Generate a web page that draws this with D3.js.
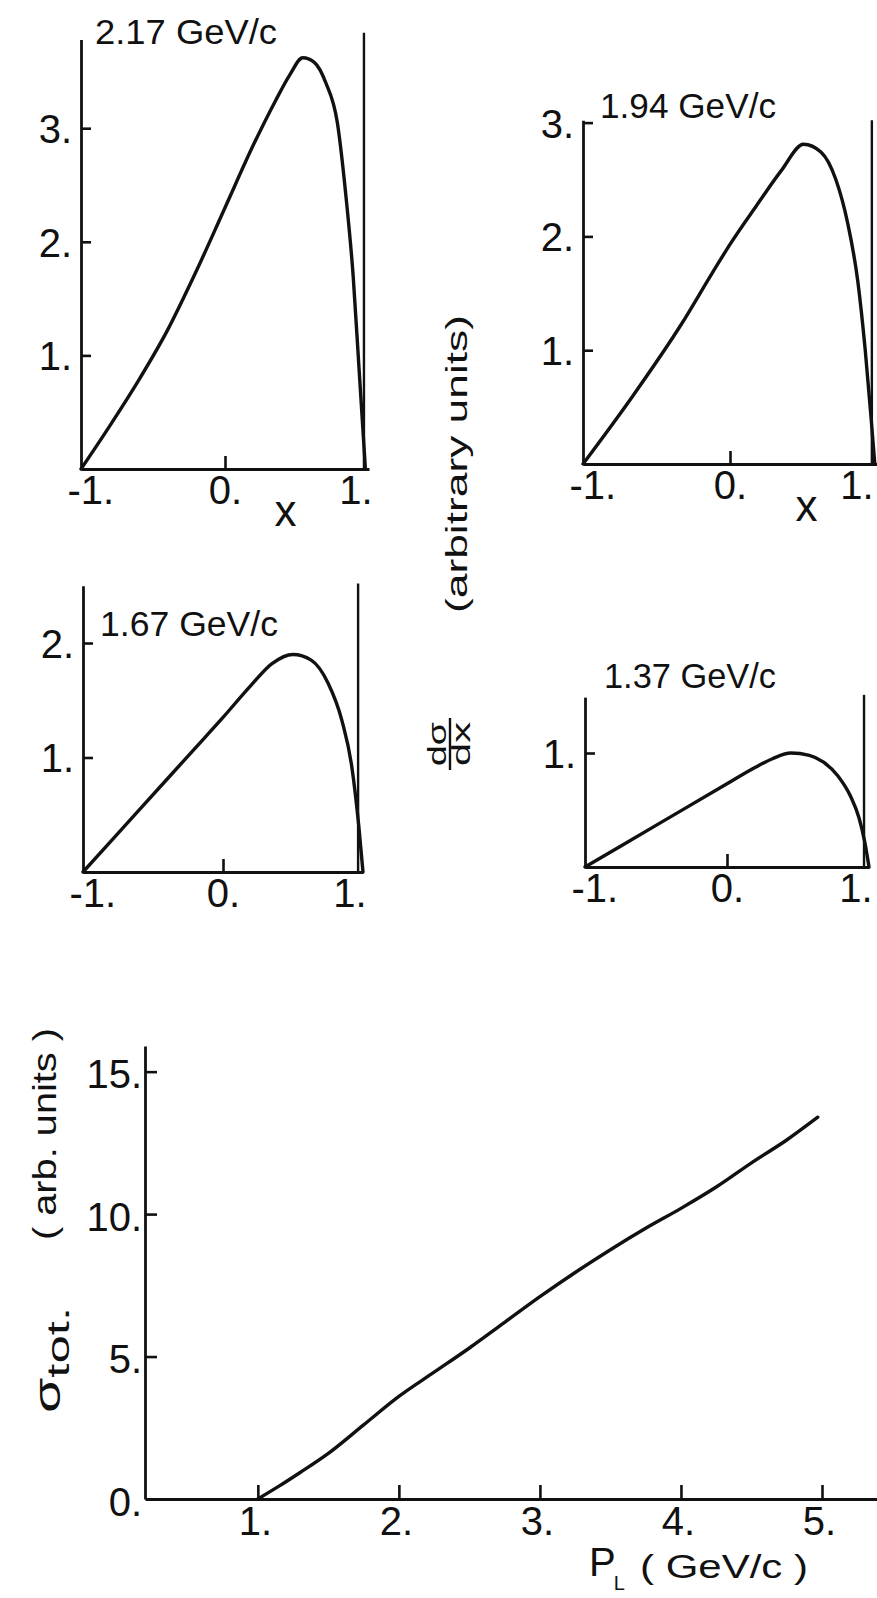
<!DOCTYPE html>
<html>
<head>
<meta charset="utf-8">
<script src="https://cdn.jsdelivr.net/npm/d3@7"></script>
<style>
  html, body { margin: 0; padding: 0; background: #fff; }
  svg { display: block; }
  text { font-family: "Liberation Sans", Arial, sans-serif; fill: #111; }
</style>
</head>
<body>
<svg id="fig" width="877" height="1598"></svg>
<script>
// ---- angular distributions dσ/dx, x = cos θ, one per beam momentum ----
const momentumLabels = ["2.17  GeV/c", "1.94  GeV/c", "1.67  GeV/c", "1.37  GeV/c"];

const x217 = [-1, -0.8, -0.6, -0.4, -0.2, 0, 0.2, 0.35, 0.45, 0.54, 0.62, 0.7, 0.78, 0.84, 0.89, 0.93, 0.96, 0.975];
const y217 = [0, 0.38, 0.78, 1.22, 1.74, 2.3, 2.86, 3.24, 3.47, 3.62, 3.58, 3.4, 3.05, 2.4, 1.7, 0.9, 0.3, 0];

const x194 = [-1, -0.66, -0.33, -0.12, 0, 0.18, 0.35, 0.5, 0.62, 0.72, 0.8, 0.87, 0.92, 0.96, 0.985];
const y194 = [0, 0.6, 1.23, 1.68, 1.93, 2.27, 2.58, 2.81, 2.74, 2.5, 2.12, 1.6, 1.0, 0.4, 0];

const x167 = [-1, -0.6, -0.2, 0, 0.2, 0.35, 0.5, 0.63, 0.75, 0.85, 0.92, 0.97, 1.0];
const y167 = [0, 0.54, 1.08, 1.35, 1.63, 1.82, 1.9, 1.85, 1.65, 1.32, 0.92, 0.4, 0];

const x137 = [-1, -0.5, 0, 0.2, 0.32, 0.45, 0.58, 0.68, 0.78, 0.87, 0.93, 0.97, 1.0];
const y137 = [0, 0.365, 0.73, 0.875, 0.95, 1.0, 0.98, 0.92, 0.8, 0.62, 0.43, 0.22, 0];

const cosTicks = [-1, 0, 1];
const cosTickLabels = ["-1.", "0.", "1."];
const yTicks217 = [1, 2, 3];
const yTicks194 = [1, 2, 3];
const yTicks167 = [1, 2];
const yTicks137 = [1];

// ---- total cross section versus laboratory momentum ----
const pLab = [1.0, 1.15, 1.3, 1.5, 1.75, 2.0, 2.25, 2.5, 2.75, 3.0, 3.25, 3.5, 3.75, 4.0, 4.25, 4.5, 4.75, 4.97];
const sigmaTot = [0, 0.45, 0.93, 1.6, 2.6, 3.6, 4.45, 5.3, 6.2, 7.1, 7.95, 8.75, 9.5, 10.2, 10.95, 11.8, 12.6, 13.4];
const pTicks = [1, 2, 3, 4, 5];
const pTickLabels = ["1.", "2.", "3.", "4.", "5."];
const sigmaTicks = [0, 5, 10, 15];
const sigmaTickLabels = ["0.", "5.", "10.", "15."];

// ---- page layout of the small panels ----
const panels = [
  { xs: x217, ys: y217, ticks: yTicks217, label: momentumLabels[0],
    left: 81, right: 369, base: 469, unit: 113.6, axisTop: 3.78, frameTop: 3.84,
    title: [95, 44, 182], xName: 0.42 },
  { xs: x194, ys: y194, ticks: yTicks194, label: momentumLabels[1],
    left: 583, right: 877, base: 464, unit: 113.8, axisTop: 3.02, frameTop: 3.02,
    title: [600, 118, 176], xName: 0.52 },
  { xs: x167, ys: y167, ticks: yTicks167, label: momentumLabels[2],
    left: 83, right: 363, base: 872, unit: 114.5, axisTop: 2.5, frameTop: 2.52,
    title: [100, 636, 178], xName: null },
  { xs: x137, ys: y137, ticks: yTicks137, label: momentumLabels[3],
    left: 585, right: 869, base: 867, unit: 114, axisTop: 1.49, frameTop: 1.51,
    title: [604, 688, 172], xName: null }
];
const frameX = 0.965;   // right-hand frame line of each small panel
const ink = "#111";

const svg = d3.select("#fig");

function styleAxis(g, fontSize) {
  g.attr("font-family", null).attr("font-size", null);
  g.select(".domain").attr("stroke", ink).attr("stroke-width", 2.8);
  g.selectAll(".tick line").attr("stroke", ink).attr("stroke-width", 2.6);
  g.selectAll(".tick text").attr("fill", ink)
    .style("font-family", '"Liberation Sans", Arial, sans-serif')
    .style("font-size", fontSize + "px");
}

const curve = d3.line().curve(d3.curveMonotoneX);

panels.forEach(p => {
  const x = d3.scaleLinear().domain([-1, 1]).range([p.left, p.right]);
  const y = d3.scaleLinear().domain([0, 1]).range([p.base, p.base - p.unit]);
  const g = svg.append("g");

  // x axis: tick mark only at 0, labels at -1, 0, 1
  const gx = g.append("g").attr("transform", `translate(0,${p.base})`)
    .call(d3.axisBottom(x).tickValues(cosTicks)
      .tickFormat((d, i) => cosTickLabels[i])
      .tickSizeInner(-13).tickSizeOuter(0).tickPadding(7));
  styleAxis(gx, 40);
  gx.selectAll(".tick").filter(d => d !== 0).select("line").remove();
  gx.selectAll(".tick").filter(d => d === -1).select("text")
    .attr("text-anchor", "start").attr("x", -14);
  gx.selectAll(".tick").filter(d => d === 1).select("text")
    .attr("text-anchor", "end").attr("x", Math.min(3, 873 - x(1)));

  // y axis: inward ticks
  const yAxisScale = y.copy().domain([0, p.axisTop]).range([p.base, y(p.axisTop)]);
  const gy = g.append("g").attr("transform", `translate(${p.left},0)`)
    .call(d3.axisLeft(yAxisScale).tickValues(p.ticks)
      .tickFormat(d => d + ".")
      .tickSizeInner(-10).tickSizeOuter(0).tickPadding(9));
  styleAxis(gy, 40);
  gy.selectAll(".tick text").attr("dy", "0.36em");

  // right-hand frame line
  g.append("line")
    .attr("x1", x(frameX)).attr("x2", x(frameX))
    .attr("y1", y(0)).attr("y2", y(p.frameTop))
    .attr("stroke", ink).attr("stroke-width", 2.4);

  // the distribution itself
  g.append("path")
    .attr("d", curve(p.xs.map((v, i) => [x(v), y(p.ys[i])])))
    .attr("fill", "none").attr("stroke", ink)
    .attr("stroke-width", 3.4).attr("stroke-linejoin", "round").attr("stroke-linecap", "round");

  // momentum label
  g.append("text")
    .attr("x", p.title[0]).attr("y", p.title[1])
    .attr("textLength", p.title[2]).attr("lengthAdjust", "spacingAndGlyphs")
    .style("font-size", "35px")
    .text(p.label);

  if (p.xName !== null) {
    g.append("text")
      .attr("x", x(p.xName)).attr("y", p.base + 57)
      .attr("text-anchor", "middle")
      .style("font-size", "44px")
      .text("x");
  }
});

// ---- shared ordinate label of the small panels ----
svg.append("text")
  .attr("transform", "translate(467,464) rotate(-90)")
  .attr("text-anchor", "middle")
  .attr("textLength", 298).attr("lengthAdjust", "spacingAndGlyphs")
  .style("font-size", "29px")
  .text("(arbitrary  units)");

const frac = svg.append("g").attr("transform", "translate(450,744) rotate(-90)");
frac.append("text").attr("x", 0).attr("y", -4).attr("text-anchor", "middle")
  .attr("textLength", 44).attr("lengthAdjust", "spacingAndGlyphs")
  .style("font-size", "25px").text("dσ");
frac.append("line").attr("x1", -26).attr("x2", 26).attr("y1", 0).attr("y2", 0)
  .attr("stroke", ink).attr("stroke-width", 2.4);
frac.append("text").attr("x", 0).attr("y", 20).attr("text-anchor", "middle")
  .attr("textLength", 44).attr("lengthAdjust", "spacingAndGlyphs")
  .style("font-size", "25px").text("dx");

// ---- total cross section panel ----
const px = d3.scaleLinear().domain([0.2, 5.39]).range([145, 877]);
const py = d3.scaleLinear().domain([0, 15.9]).range([1499, 1046]);
const bottom = svg.append("g");

const bx = bottom.append("g").attr("transform", `translate(0,${py(0)})`)
  .call(d3.axisBottom(px).tickValues(pTicks)
    .tickFormat((d, i) => pTickLabels[i])
    .tickSizeInner(-14).tickSizeOuter(0).tickPadding(8));
styleAxis(bx, 40);
bx.selectAll(".tick text").attr("dx", "-3");

const by = bottom.append("g").attr("transform", `translate(${px(0.2)},0)`)
  .call(d3.axisLeft(py).tickValues(sigmaTicks)
    .tickFormat((d, i) => sigmaTickLabels[i])
    .tickSizeInner(-12).tickSizeOuter(0).tickPadding(3));
styleAxis(by, 40);
by.selectAll(".tick text").attr("dy", "0.40em");
by.selectAll(".tick").filter(d => d === 0).select("line").remove();

bottom.append("path")
  .attr("d", curve(pLab.map((v, i) => [px(v), py(sigmaTot[i])])))
  .attr("fill", "none").attr("stroke", ink)
  .attr("stroke-width", 3.4).attr("stroke-linecap", "round").attr("stroke-linejoin", "round");

// axis titles
const sig = svg.append("text")
  .attr("transform", "translate(60,1360) rotate(-90)")
  .attr("text-anchor", "middle")
  .attr("textLength", 106).attr("lengthAdjust", "spacingAndGlyphs");
sig.append("tspan").style("font-size", "36px").text("σ");
sig.append("tspan").attr("dy", 9).style("font-size", "32px").text("tot.");

svg.append("text")
  .attr("transform", "translate(56,1134) rotate(-90)")
  .attr("text-anchor", "middle")
  .attr("textLength", 212).attr("lengthAdjust", "spacingAndGlyphs")
  .style("font-size", "34px")
  .text("( arb. units )");

const pl = svg.append("text").attr("x", 589).attr("y", 1576);
pl.append("tspan").style("font-size", "40px").text("P");
pl.append("tspan").attr("dy", 14).attr("dx", -2).style("font-size", "20px").text("L");

svg.append("text")
  .attr("x", 640).attr("y", 1578)
  .attr("textLength", 168).attr("lengthAdjust", "spacingAndGlyphs")
  .style("font-size", "33px")
  .text("( GeV/c )");
</script>
</body>
</html>
